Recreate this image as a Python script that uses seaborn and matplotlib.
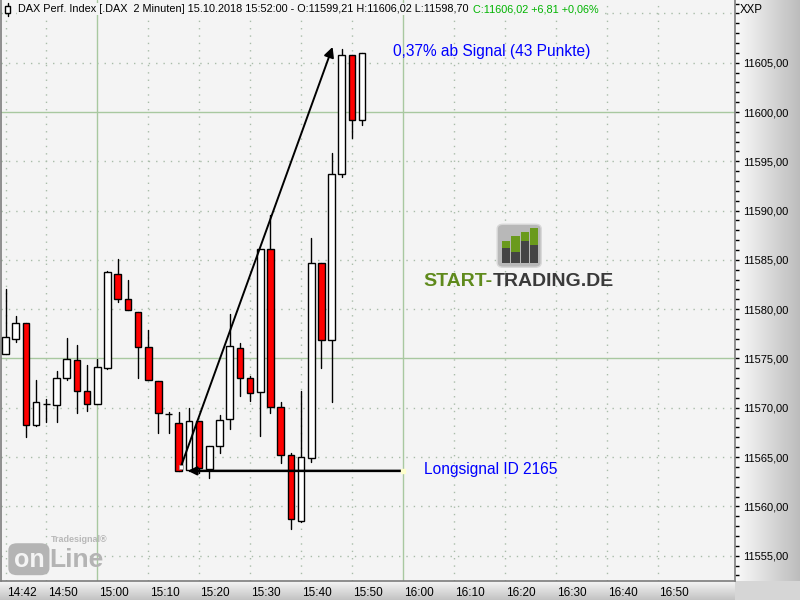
import numpy as np
import pandas as pd
import matplotlib
matplotlib.use("Agg")
import matplotlib.pyplot as plt
import matplotlib.transforms as mtransforms
from matplotlib.colors import LinearSegmentedColormap
from matplotlib.patches import Rectangle, FancyBboxPatch
from matplotlib.ticker import MultipleLocator
import seaborn as sns

# =====================================================
# Data (minutes after 14:00, 2-minute DAX candles)
# =====================================================

times = [42, 44, 46, 48, 50, 52, 54, 56, 58, 60, 62, 64, 66, 68, 70, 72, 74, 76,
         78, 80, 82, 84, 86, 88, 90, 92, 94, 96, 98, 100, 102, 104, 106, 108, 110, 112]

opens = [11575.5, 11577.0, 11578.6, 11568.3, 11570.4, 11570.3, 11573.0, 11574.8, 11571.7,
         11570.4, 11574.0, 11583.6, 11581.0, 11579.7, 11576.2, 11572.7, 11569.4, 11568.5,
         11563.7, 11568.7, 11563.8, 11566.1, 11568.9, 11576.1, 11573.0, 11571.6, 11586.1,
         11570.1, 11565.2, 11558.5, 11564.9, 11584.7, 11576.9, 11593.7, 11605.8, 11599.21]

highs = [11582.0, 11579.3, 11578.6, 11572.8, 11570.9, 11573.7, 11577.1, 11576.4, 11574.3,
         11574.9, 11583.9, 11585.1, 11583.0, 11579.7, 11577.9, 11572.7, 11569.6, 11569.6,
         11570.0, 11568.7, 11566.1, 11569.3, 11579.5, 11576.6, 11573.2, 11586.1, 11589.6,
         11570.6, 11565.4, 11571.7, 11587.2, 11584.7, 11595.8, 11606.4, 11605.8, 11606.02]

lows = [11575.5, 11576.7, 11567.0, 11568.2, 11568.6, 11568.6, 11572.8, 11569.5, 11569.7,
        11570.4, 11573.9, 11580.7, 11579.9, 11573.0, 11572.8, 11567.4, 11567.4, 11563.6,
        11563.6, 11563.4, 11562.9, 11565.4, 11567.8, 11571.2, 11570.7, 11567.1, 11569.5,
        11564.4, 11557.7, 11558.4, 11564.5, 11574.0, 11570.6, 11593.4, 11597.4, 11598.70]

closes = [11577.2, 11578.6, 11568.3, 11570.6, 11570.4, 11573.0, 11574.9, 11571.7, 11570.4,
          11574.1, 11583.8, 11581.0, 11579.9, 11576.2, 11572.8, 11569.5, 11569.4, 11563.6,
          11568.7, 11563.9, 11566.1, 11568.8, 11576.3, 11573.0, 11571.5, 11586.1, 11570.1,
          11565.2, 11558.7, 11565.0, 11584.7, 11576.9, 11593.7, 11605.8, 11599.2, 11606.02]

x_ticks = [42, 50, 60, 70, 80, 90, 100, 110, 120, 130, 140, 150, 160, 170]
x_labels = ["14:42", "14:50", "15:00", "15:10", "15:20", "15:30", "15:40",
            "15:50", "16:00", "16:10", "16:20", "16:30", "16:40", "16:50"]
hour_marks = [60, 120]

y_ticks = [11555, 11560, 11565, 11570, 11575, 11580, 11585, 11590, 11595, 11600, 11605, 11610]
y_solid = [11575, 11600]

# signal annotation
signal_time, signal_price = 76.4, 11564.0
target_time, target_price = 106.2, 11606.6
long_line_start, long_line_end, long_line_price = 120.0, 77.8, 11563.6

df = pd.DataFrame({"time": times, "open": opens, "high": highs,
                   "low": lows, "close": closes})
wicks = pd.concat([
    df[["time", "low"]].rename(columns={"low": "price"}),
    df[["time", "high"]].rename(columns={"high": "price"}),
])

# =====================================================
# Style
# =====================================================

sns.set_style("white")
plt.rcParams["font.family"] = ["Liberation Sans", "DejaVu Sans"]

BG = "#f4f4f4"
RED = "#ff0000"
GRID_DOT = "#a9bca9"
GRID_SOLID = "#a8c8a0"

fig = plt.figure(figsize=(8, 6), dpi=100)

# gradient strips
grad_r = fig.add_axes([735 / 800, 19 / 600, 65 / 800, 581 / 600])
grad_r.imshow(np.linspace(0, 1, 256)[None, :], aspect="auto",
              cmap=LinearSegmentedColormap.from_list("r", ["#fbfbfb", "#bcbcbc"]))
grad_r.axis("off")

grad_b = fig.add_axes([0, 0, 735 / 800, 19 / 600])
grad_b.imshow(np.linspace(0, 1, 256)[:, None], aspect="auto",
              cmap=LinearSegmentedColormap.from_list("b", ["#f6f6f6", "#c2c2c2"]))
grad_b.axis("off")

corner = fig.add_axes([735 / 800, 0, 65 / 800, 19 / 600])
corner.set_facecolor("#d6d6d6")
corner.set_xticks([])
corner.set_yticks([])
for s in corner.spines.values():
    s.set_visible(False)

# =====================================================
# Main axes
# =====================================================

ax = fig.add_axes([1 / 800, 19 / 600, 734 / 800, 581 / 600])
ax.set_facecolor(BG)
ax.set_zorder(3)

ax.set_xlim(41.1, 185.2)
ax.set_ylim(11552.43, 11611.36)

# grid
for y in y_ticks:
    if y in y_solid:
        ax.axhline(y, color=GRID_SOLID, lw=1, zorder=0)
    else:
        ax.axhline(y, color=GRID_DOT, lw=1, ls=(0, (1, 4.3)), zorder=0)
for x in x_ticks:
    if x in hour_marks:
        ax.axvline(x, color=GRID_SOLID, lw=1, zorder=0)
    else:
        ax.axvline(x, color=GRID_DOT, lw=1, ls=(0, (1, 4.3)), zorder=0)

# wicks
sns.lineplot(data=wicks, x="time", y="price", units="time", estimator=None,
             color="black", lw=1.0, legend=False, ax=ax, zorder=2)

# bodies
body_bottom = np.minimum(df["open"], df["close"])
body_height = (df["close"] - df["open"]).abs()
body_color = np.where(df["close"] >= df["open"], "white", RED)
ax.bar(df["time"], body_height, bottom=body_bottom, width=1.3,
       color=body_color, edgecolor="black", linewidth=1.0, zorder=3)

ax.set_xlabel("")
ax.set_ylabel("")

# arrows
ax.annotate("", xy=(target_time, target_price), xytext=(signal_time, signal_price),
            arrowprops=dict(arrowstyle="-|>", color="black", lw=1.4,
                            mutation_scale=15, shrinkA=0, shrinkB=0), zorder=5)
ax.annotate("", xy=(long_line_end, long_line_price), xytext=(long_line_start, long_line_price),
            arrowprops=dict(arrowstyle="-|>", color="black", lw=1.8,
                            mutation_scale=12, shrinkA=0, shrinkB=0), zorder=5)
ax.plot([signal_time], [signal_price], marker="s", ms=3.5, mfc="white",
        mec="#999999", mew=0.5, zorder=6)
ax.plot([long_line_start], [long_line_price], marker="s", ms=2.5, mfc="#ffffcc",
        mec="#ffffcc", zorder=6)

ax.text(118.05, 11606.1, "0,37% ab Signal (43 Punkte)", color="#0000ff",
        fontsize=11.2, va="center", ha="left", zorder=6)
ax.text(124.1, 11563.7, "Longsignal ID 2165", color="#0000ff",
        fontsize=11.2, va="center", ha="left", zorder=6)

# ticks
ax.yaxis.tick_right()
ax.set_yticks(y_ticks[:-1])
ax.set_yticklabels([f"{v:.2f}".replace(".", ",") for v in y_ticks[:-1]])
ax.yaxis.set_minor_locator(MultipleLocator(1))
ax.tick_params(axis="y", which="both", direction="out", length=3, width=1,
               colors="black", pad=3, labelsize=8, left=False, right=True)

ax.set_xticks(x_ticks)
ax.set_xticklabels(x_labels)
ax.tick_params(axis="x", which="major", direction="out", length=3, width=1,
               colors="black", pad=1.5, labelsize=8.5)
offset = mtransforms.ScaledTranslation(1 / 72, 0, fig.dpi_scale_trans)
for lbl in ax.get_xticklabels():
    lbl.set_horizontalalignment("left")
    lbl.set_transform(lbl.get_transform() + offset)

for side in ["left", "right", "bottom"]:
    ax.spines[side].set_color("#7c7c7c")
    ax.spines[side].set_linewidth(1.2)
ax.spines["top"].set_visible(False)

# =====================================================
# Logos (watermarks)
# =====================================================

icon = FancyBboxPatch((0.676, 0.540), 0.060, 0.074, transform=ax.transAxes,
                      boxstyle="round,pad=0,rounding_size=0.008",
                      fc="#b8b8b8", ec="#d8d8d8", lw=1, zorder=1)
ax.add_patch(icon)
bar_tops = [0.585, 0.594, 0.600, 0.607]
bar_mids = [0.574, 0.566, 0.586, 0.578]
for i, (t, m) in enumerate(zip(bar_tops, bar_mids)):
    x0 = 0.6825 + i * 0.0128
    ax.add_patch(Rectangle((x0, m), 0.0112, t - m, transform=ax.transAxes,
                           fc="#6a9a1c", ec="none", zorder=1))
    ax.add_patch(Rectangle((x0, 0.548), 0.0112, m - 0.548, transform=ax.transAxes,
                           fc="#444444", ec="none", zorder=1))
ax.text(0.670, 0.516, "START-", transform=ax.transAxes, ha="right", va="center",
        fontsize=14, fontweight="bold", color="#5f8a1c", zorder=1)
ax.text(0.670, 0.516, "TRADING.DE", transform=ax.transAxes, ha="left", va="center",
        fontsize=14, fontweight="bold", color="#3a3a3a", zorder=1)

ax.add_patch(FancyBboxPatch((0.010, 0.010), 0.056, 0.055, transform=ax.transAxes,
                            boxstyle="round,pad=0,rounding_size=0.012",
                            fc="#b4b4b4", ec="none", zorder=1))
ax.text(0.038, 0.036, "on", transform=ax.transAxes, ha="center", va="center",
        fontsize=18, fontweight="bold", color=BG, zorder=1)
ax.text(0.066, 0.036, "Line", transform=ax.transAxes, ha="left", va="center",
        fontsize=19, fontweight="bold", color="#b4b4b4", zorder=1)
ax.text(0.068, 0.064, "Tradesignal\u00ae", transform=ax.transAxes, ha="left",
        va="bottom", fontsize=6.5, fontweight="bold", color="#b8b8b8", zorder=1)

# =====================================================
# Header
# =====================================================

head = fig.text(18 / 800, 1 - 9 / 600,
                "DAX Perf. Index [.DAX  2 Minuten] 15.10.2018 15:52:00 - "
                "O:11599,21 H:11606,02 L:11598,70",
                fontsize=7.8, color="black", va="center", ha="left", zorder=10,
                bbox=dict(fc=BG, ec="none", pad=1))
ax.annotate("C:11606,02 +6,81 +0,06%", xy=(1, 0.5), xycoords=head,
            xytext=(3, 0), textcoords="offset points",
            va="center", ha="left", fontsize=7.8, color="#00b400", zorder=10,
            annotation_clip=False,
            bbox=dict(fc=BG, ec="none", pad=1))

fig.add_artist(plt.Line2D([7.5 / 800, 7.5 / 800], [1 - 3 / 600, 1 - 16 / 600],
                          color="black", lw=1, zorder=11))
fig.add_artist(Rectangle((5 / 800, 1 - 13 / 600), 5 / 800, 7 / 600,
                         fc="white", ec="black", lw=1, zorder=12))

fig.text(740 / 800, 1 - 10 / 600, "XXP", fontsize=8.3, color="black",
         va="center", ha="left")

fig.savefig("out.png", dpi=100)
